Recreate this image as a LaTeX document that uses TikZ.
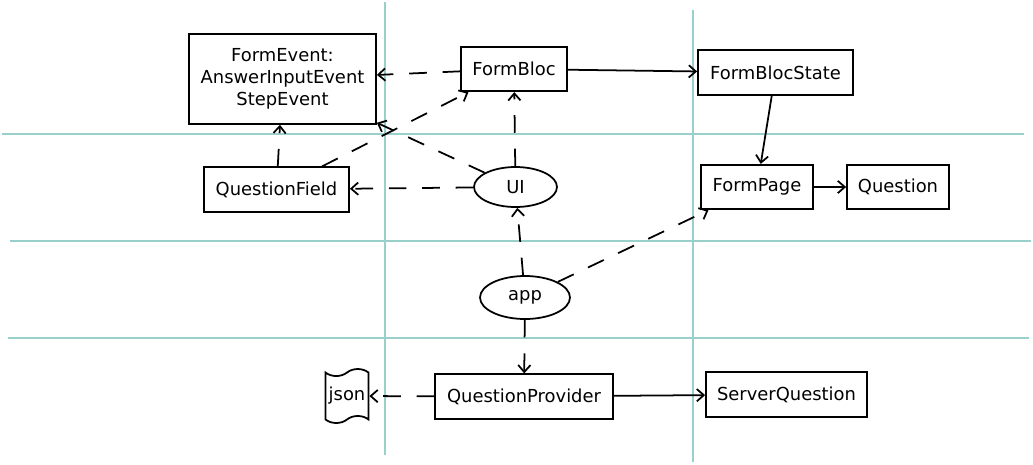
\documentclass[tikz,border=0pt]{standalone}
\usepackage{fontspec}
\setmainfont{DejaVu Sans}
\usetikzlibrary{arrows.meta,shapes.geometric,shapes.symbols}

\begin{document}
\begin{tikzpicture}[
		x=0.02cm, y=-0.02cm,
		box/.style={draw, line width=1pt, minimum height=0.89cm, inner sep=2pt, font=\fontsize{10.2}{12.5}\selectfont},
		oval/.style={draw, ellipse, line width=1pt, inner sep=0pt, font=\fontsize{10.2}{12.5}\selectfont},
		grid/.style={draw={rgb,255:red,153;green,208;blue,204}, line width=1pt},
		uses/.style={line width=1pt, -{Straight Barb[length=4pt,width=7pt]}},
		calls/.style={uses, dash pattern=on 10pt off 9pt}
		]
		
		% Canvas
		\useasboundingbox (0,0) rectangle (1033,464);
		
		% Draw the grid lines
		\draw[grid] (385,2) -- (385,455);
		\draw[grid] (693,10) -- (693,462);
		\draw[grid] (2,134) -- (1024,134);
		\draw[grid] (10,241) -- (1031,241);
		\draw[grid] (8,338) -- (1029,338);
		
		% Draw the boxes
		\node[box, minimum width=3.74cm, minimum height=1.8cm, align=center] (formevent) at (282.5,79) {FormEvent:\\AnswerInputEvent\\StepEvent};
		\node[box, minimum width=2.12cm] (formbloc) at (514,69) {FormBloc};
		\node[box, minimum width=3.1cm] (formblocstate) at (775.5,72.5) {FormBlocState};
		\node[box, minimum width=2.9cm] (questionfield) at (276.5,189.5) {QuestionField};
		\node[box, minimum width=2.24cm] (formpage) at (757,187) {FormPage};
		\node[box, minimum width=2.04cm] (question) at (898,187) {Question};
		\node[box, minimum width=3.56cm] (questionprovider) at (524,396.5) {QuestionProvider};
		\node[box, minimum width=3.22cm] (serverquestion) at (786.5,394.5) {ServerQuestion};
		
		% Draw the ellipses
		\node[oval, minimum width=1.66cm, minimum height=0.8cm] (ui) at (515.5,187) {UI};
		\node[oval, minimum width=1.8cm, minimum height=0.86cm] (app) at (525,297.5) {app};
		
		% Draw the json file
		\node[tape, draw, line width=1pt, inner sep=0pt, minimum width=0.86cm, minimum height=1.08cm, tape bend height=4pt, font=\fontsize{10.2}{12.5}\selectfont] (json) at (347,396) {json};
		
		% Solid arrows
		\draw[uses] (formbloc) -- (formblocstate);
		\draw[uses] (formblocstate) -- (formpage);
		\draw[uses] (formpage) -- (question);
		\draw[uses] (questionprovider) -- (serverquestion);
		
		% Dashed arrows
		\draw[calls] (formbloc) -- (formevent);
		\draw[calls] (questionfield) -- (formevent);
		\draw[calls] (questionfield) -- (formbloc);
		\draw[calls] (ui) -- (formevent);
		\draw[calls] (ui) -- (questionfield);
		\draw[calls] (ui) -- (formbloc);
		\draw[calls] (app) -- (ui);
		\draw[calls] (app) -- (formpage);
		\draw[calls] (app) -- (questionprovider);
		\draw[calls] (questionprovider) -- (json);
		
	\end{tikzpicture}
\end{document}
